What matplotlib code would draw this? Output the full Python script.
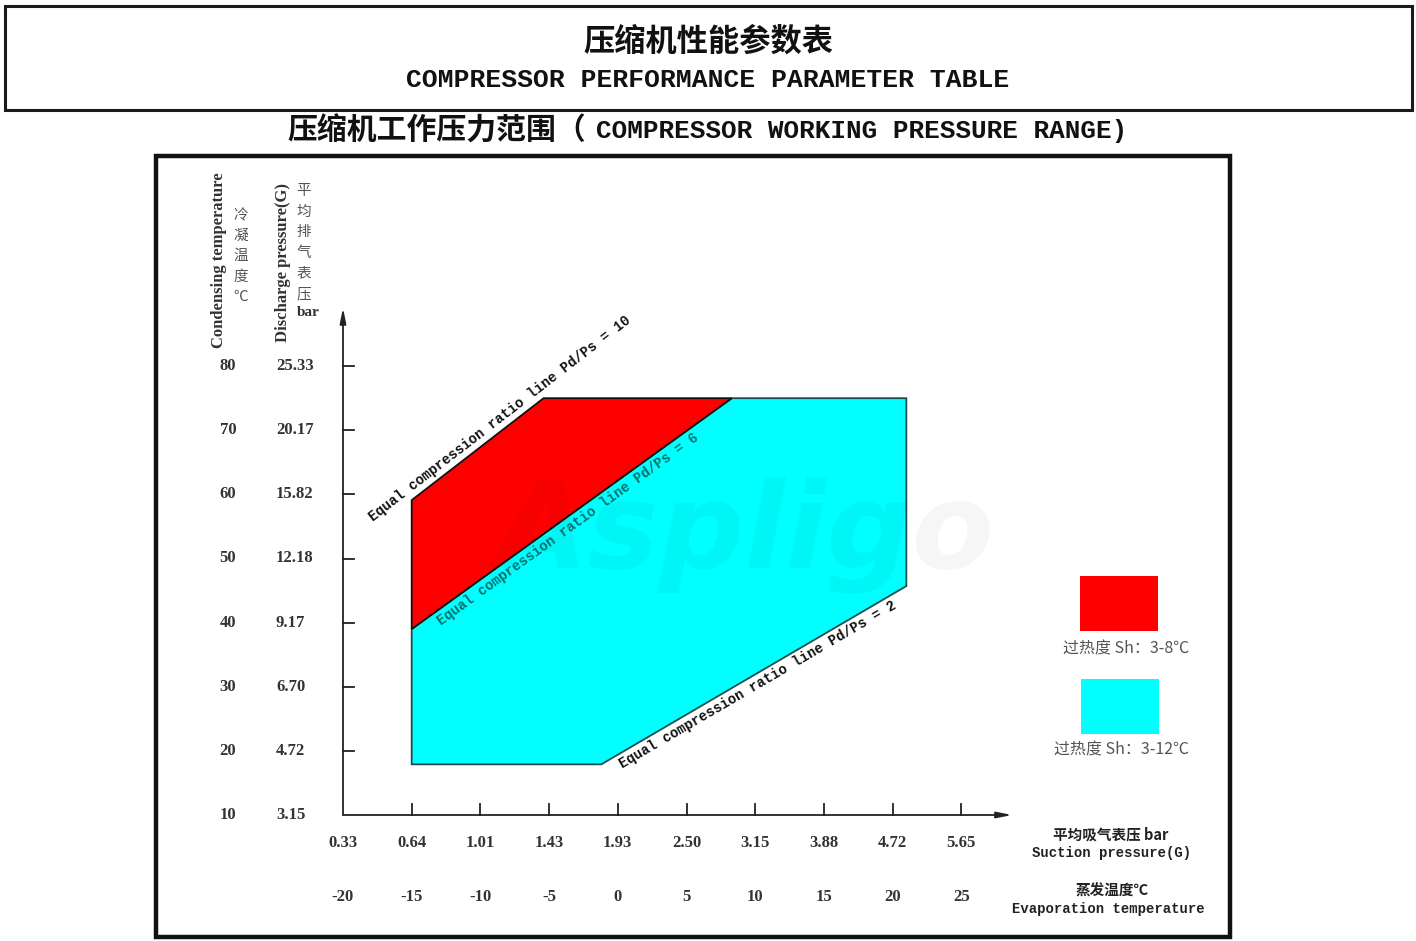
import matplotlib
matplotlib.use('Agg')
import matplotlib.pyplot as plt
from matplotlib.patches import Rectangle, Polygon
from matplotlib.transforms import blended_transform_factory as blend
import numpy as np

W, H = 1416, 941
CJK = 'Noto Sans CJK SC'
MONO = 'Liberation Mono'
SERIF = 'Liberation Serif'
plt.rcParams['font.family'] = [CJK, 'DejaVu Sans']

# ---------------- data ----------------
evap_temp = [-20, -15, -10, -5, 0, 5, 10, 15, 20, 25]
suction_p = ['0.33', '0.64', '1.01', '1.43', '1.93', '2.50', '3.15', '3.88', '4.72', '5.65']
cond_temp = [10, 20, 30, 40, 50, 60, 70, 80]
discharge_p = ['3.15', '4.72', '6.70', '9.17', '12.18', '15.82', '20.17', '25.33']

cyan_evap = [-15, -15, 8.3, 21.0, 21.0, -1.2]
cyan_cond = [17.9, 39.0, 75.0, 75.0, 45.7, 17.9]
red_evap = [-15, -5.4, 8.3, -15]
red_cond = [59.1, 75.0, 75.0, 39.0]

ratio_labels = ['Equal compression ratio line Pd/Ps = 10',
                'Equal compression ratio line Pd/Ps = 6',
                'Equal compression ratio line Pd/Ps = 2']
legend_labels = ['过热度 Sh：3-8℃', '过热度 Sh：3-12℃']

RED = '#ff0000'
CYAN = '#00ffff'

# ---------------- figure ----------------
fig = plt.figure(figsize=(W / 100, H / 100), dpi=100)
fig.patch.set_facecolor('white')


def fx(x):
    return x / W


def fy(y):
    return 1 - y / H


def ftext(x, y, s, **kw):
    fig.text(fx(x), fy(y), s, **kw)


# top header box
fig.add_artist(Rectangle((fx(5), fy(110)), fx(1412) - fx(5), fy(6) - fy(110),
                         transform=fig.transFigure, fill=False, lw=2.2, ec='#1a1a1a'))
ftext(708, 42, '压缩机性能参数表', ha='center', va='center', fontsize=22.5,
      family=[CJK], weight='bold', color='#111')
ftext(708, 80, 'COMPRESSOR PERFORMANCE PARAMETER TABLE', ha='center', va='center',
      fontsize=19, family=[MONO], weight='bold', color='#111')

# subtitle
ftext(287, 131, '压缩机工作压力范围（', ha='left', va='center', fontsize=21.5,
      family=[CJK], weight='bold', color='#111')
ftext(596, 131, 'COMPRESSOR WORKING PRESSURE RANGE)', ha='left', va='center',
      fontsize=18.7, family=[MONO], weight='bold', color='#111')

# chart frame
fig.add_artist(Rectangle((fx(156), fy(937)), fx(1230) - fx(156), fy(156) - fy(937),
                         transform=fig.transFigure, fill=False, lw=3.2, ec='#111'))

# ---------------- main axes ----------------
ax = fig.add_axes([fx(343), fy(815), fx(1030) - fx(343), fy(302) - fy(815)])
ax.set_xlim(-20, 30)
ax.set_ylim(10, 90)
ax.axis('off')

ax.add_patch(Polygon(np.column_stack([cyan_evap, cyan_cond]), closed=True,
                     fc=CYAN, ec='#1d4d4d', lw=1.3, zorder=2))
ax.add_patch(Polygon(np.column_stack([red_evap, red_cond]), closed=True,
                     fc=RED, ec='#111', lw=1.3, zorder=3))

# watermark
ax.text(0.585, 0.545, 'Aspligo', transform=ax.transAxes, ha='center', va='center',
        fontsize=86, family=['DejaVu Sans'], weight='bold', style='italic',
        color='#000000', alpha=0.035, zorder=4)

# axes lines with arrows
ax.annotate('', xy=(28.7, 10), xytext=(-20, 10), annotation_clip=False,
            arrowprops=dict(arrowstyle='-|>,head_length=0.9,head_width=0.18',
                            color='#222', lw=1.3, shrinkA=0, shrinkB=0), zorder=5)
ax.annotate('', xy=(-20, 89.1), xytext=(-20, 10), annotation_clip=False,
            arrowprops=dict(arrowstyle='-|>,head_length=0.9,head_width=0.18',
                            color='#222', lw=1.3, shrinkA=0, shrinkB=0), zorder=5)

# ticks (x ticks point up, y ticks point right)
px_x = ax.transData.transform((1, 0))[0] - ax.transData.transform((0, 0))[0]
px_y = ax.transData.transform((0, 1))[1] - ax.transData.transform((0, 0))[1]
for t in evap_temp[1:]:
    ax.plot([t, t], [10, 10 + 11 / px_y], color='#222', lw=1.3, clip_on=False, zorder=5)
for t in cond_temp[1:]:
    ax.plot([-20, -20 + 11 / px_x], [t, t], color='#222', lw=1.3, clip_on=False, zorder=5)

# x tick labels (two rows)
tx = blend(ax.transData, fig.transFigure)
for t, p in zip(evap_temp, suction_p):
    ax.text(t, fy(843), p, transform=tx, ha='center', va='center', fontsize=12,
            family=[SERIF], weight='bold', color='#333')
    ax.text(t, fy(897), str(t), transform=tx,
            ha='center', va='center', fontsize=12, family=[SERIF], weight='bold',
            color='#333')

# y tick labels (two columns)
ty = blend(fig.transFigure, ax.transData)
for t, p in zip(cond_temp, discharge_p):
    ax.text(fx(228), t, str(t), transform=ty, ha='center', va='center', fontsize=12,
            family=[SERIF], weight='bold', color='#333')
    ax.text(fx(276), t, p, transform=ty, ha='left', va='center', fontsize=12,
            family=[SERIF], weight='bold', color='#333')

# ratio line labels
label_pos = [(-8.57, 71.8), (-3.62, 54.5), (10.2, 30.3)]
label_edges = [((red_evap[0], red_cond[0]), (red_evap[1], red_cond[1])),
               ((red_evap[3], red_cond[3]), (red_evap[2], red_cond[2])),
               ((cyan_evap[5], cyan_cond[5]), (cyan_evap[4], cyan_cond[4]))]
label_colors = ['#111', '#0b6f6f', '#111']
for s, (lx, ly), (a, b), c in zip(ratio_labels, label_pos, label_edges, label_colors):
    p1 = ax.transData.transform(a)
    p2 = ax.transData.transform(b)
    ang = np.degrees(np.arctan2(p2[1] - p1[1], p2[0] - p1[0]))
    ax.text(lx, ly, s, rotation=ang, rotation_mode='anchor', ha='center', va='center',
            fontsize=10, family=[MONO], weight='bold', color=c, zorder=6)

# y axis headers
ftext(219, 260, 'Condensing temperature', rotation=90, ha='center', va='center',
      fontsize=12, family=[SERIF], weight='bold', color='#333')
for i, ch in enumerate('冷凝温度℃'):
    ftext(241, 215 + i * 20.5, ch, ha='center', va='center', fontsize=10.5,
          family=[CJK, 'DejaVu Sans'], color='#555')
ftext(283, 262, 'Discharge pressure(G)', rotation=90, ha='center', va='center',
      fontsize=12, family=[SERIF], weight='bold', color='#333')
for i, ch in enumerate('平均排气表压'):
    ftext(304, 191 + i * 20.6, ch, ha='center', va='center', fontsize=10.5,
          family=[CJK], color='#555')
ftext(308, 313, 'bar', ha='center', va='center', fontsize=11,
      family=[SERIF], weight='bold', color='#333')

# legend
leg_boxes = [(1080, 576, 78, 55), (1081, 679, 78, 55)]
leg_text_pos = [(1126, 649), (1121, 750)]
for (bx, by, bw, bh), col, lab, (tx_, ty_) in zip(leg_boxes, [RED, CYAN], legend_labels,
                                                   leg_text_pos):
    fig.add_artist(Rectangle((fx(bx), fy(by + bh)), bw / W, bh / H,
                             transform=fig.transFigure, fc=col, ec='none'))
    ftext(tx_, ty_, lab, ha='center', va='center', fontsize=11.5,
          family=[CJK, 'DejaVu Sans'], color='#555')

# x axis titles
ftext(1111, 835, '平均吸气表压 bar', ha='center', va='center', fontsize=10.5,
      family=[CJK], weight='bold', color='#222')
ftext(1112, 853, 'Suction pressure(G)', ha='center', va='center', fontsize=10,
      family=[MONO], weight='bold', color='#222')
ftext(1112, 891, '蒸发温度℃', ha='center', va='center', fontsize=10.5,
      family=[CJK, 'DejaVu Sans'], weight='bold', color='#222')
ftext(1108, 909, 'Evaporation temperature', ha='center', va='center', fontsize=10,
      family=[MONO], weight='bold', color='#222')

fig.savefig('out.png', dpi=100)
